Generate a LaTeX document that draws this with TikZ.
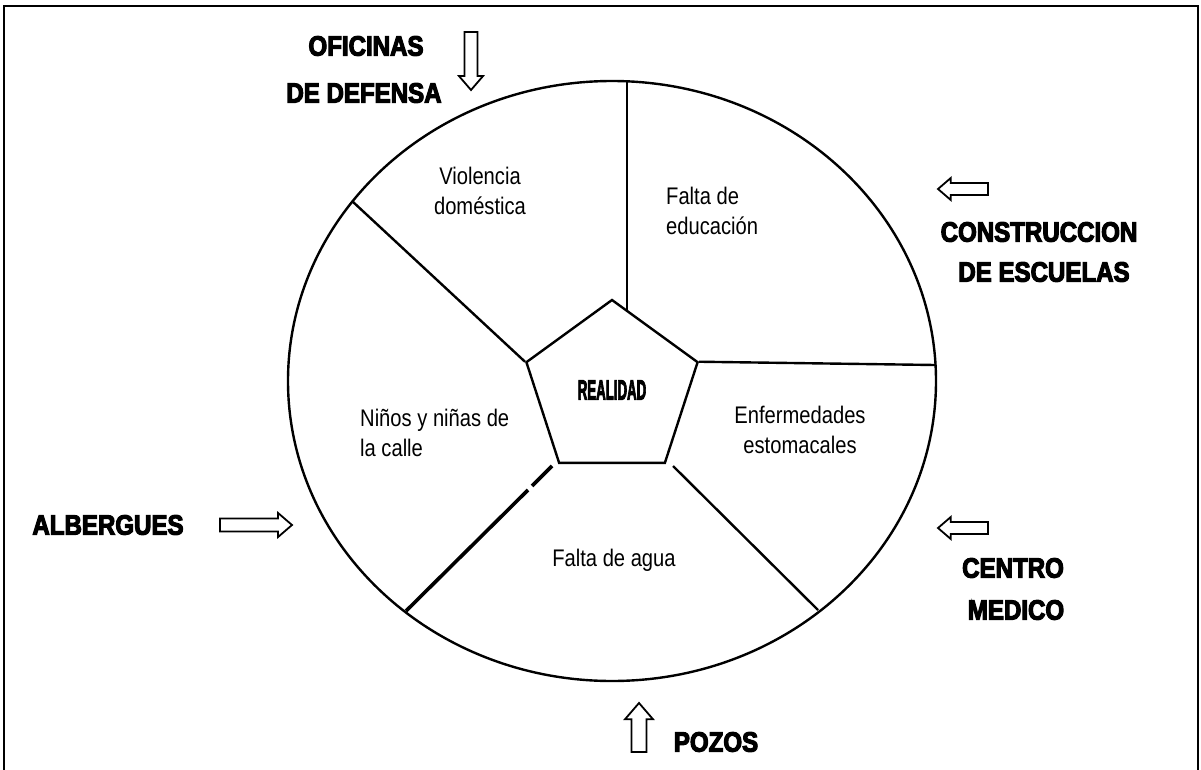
\documentclass[tikz,border=0pt]{standalone}
\usepackage{fontspec}
\usetikzlibrary{shapes.geometric}
\newfontfamily\sectorfont{Liberation Sans}[FakeStretch=0.84]
\newfontfamily\actionfont{Liberation Sans}[FakeStretch=0.86,BoldFeatures={FakeBold=4}]

% hollow block arrow: tail, direction, length, width
\newcommand{\hollowarrow}[4]{%
  \pgfmathsetmacro\arrhalf{#4/2}\pgfmathsetmacro\arrshaft{0.27*#4}\pgfmathsetmacro\arrhead{#3-0.58*#4}
  \draw[arrowline, shift={(#1)}, rotate=#2]
    (0,-\arrshaft) -- (\arrhead,-\arrshaft) -- (\arrhead,-\arrhalf) -- (#3,0)
    -- (\arrhead,\arrhalf) -- (\arrhead,\arrshaft) -- (0,\arrshaft) -- cycle;}

\tikzset{
  rim/.style={line width=2.4pt},
  arrowline/.style={line width=1.8pt, line join=miter},
  sector/.style={font=\sectorfont\fontsize{24}{30}\selectfont, inner sep=0},
  action/.style={font=\actionfont\bfseries\fontsize{28}{40}\selectfont, inner sep=0},
}

\begin{document}
\begin{tikzpicture}[x=1pt,y=-1pt]
  \useasboundingbox (0,0) rectangle (1201,770);
  \draw[rim] (4,770) -- (4,6) -- (1198,6) -- (1198,770);

  \coordinate (C) at (612,381);
  \draw[rim] (C) ellipse [x radius=324, y radius=300];

  \node[regular polygon, regular polygon sides=5, minimum size=180pt, draw, rim, inner sep=0,
        font=\actionfont\bfseries\fontsize{28}{28}\selectfont] (REAL) at (612,390) {\scalebox{0.55}[1]{REALIDAD}};

  % spokes
  \coordinate (Vtop) at (627,81);
  \coordinate (Vcut) at (627,311);
  \coordinate (UL) at (352,201);
  \coordinate (Rend) at (935,365);
  \coordinate (LRa) at (673,466);
  \coordinate (LRb) at (818,610);
  \coordinate (LLa) at (552,466);
  \coordinate (LLm) at (532,486);
  \coordinate (LLn) at (528,490);
  \coordinate (LLb) at (406,611);
  \draw[rim] (Vtop) -- (Vcut);
  \draw[rim] (UL) -- (REAL.corner 2);
  \draw[rim] (REAL.corner 5) -- (Rend);
  \draw[rim] (LRa) -- (LRb);
  \draw[line width=3.6pt] (LLa) -- (LLm);
  \draw[line width=3.6pt] (LLn) -- (LLb);

  \node[sector, align=center] (VD) at (480,191) {Violencia\\doméstica};
  \node[sector, align=left, anchor=west] (FE) at (666,211) {Falta de\\educación};
  \node[sector, align=left, anchor=west] (NC) at (360,433) {Niños y niñas de\\la calle};
  \node[sector, align=center] (EE) at (800,430) {Enfermedades\\estomacales};
  \node[sector] (FA) at (614,560) {Falta de agua};

  \node[action] (OF1) at (366,46) {OFICINAS};
  \node[action] (OF2) at (364,93) {DE DEFENSA};
  \coordinate (OFtail) at (471,32);
  \hollowarrow{OFtail}{-90}{58}{24}

  \node[action] (CE1) at (1039,232) {CONSTRUCCION};
  \node[action] (CE2) at (1044,272) {DE ESCUELAS};
  \coordinate (CEtail) at (988,189);
  \hollowarrow{CEtail}{180}{50}{22}

  \node[action] (CM1) at (1013,568) {CENTRO};
  \node[action] (CM2) at (1016,610) {MEDICO};
  \coordinate (CMtail) at (988,528);
  \hollowarrow{CMtail}{180}{50}{22}

  \node[action] (AL) at (108,525) {ALBERGUES};
  \coordinate (ALtail) at (220,525);
  \hollowarrow{ALtail}{0}{72}{24}

  \node[action] (PO) at (716,742) {POZOS};
  \coordinate (POtail) at (639,752);
  \hollowarrow{POtail}{90}{49}{28}
\end{tikzpicture}
\end{document}
